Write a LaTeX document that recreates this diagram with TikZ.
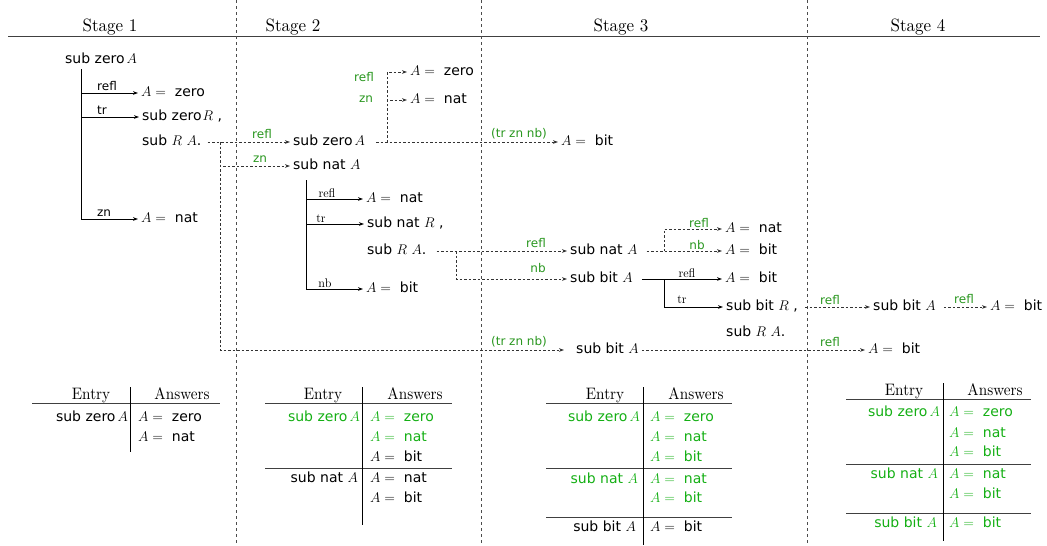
\RequirePackage{fix-cm}
\documentclass[tikz,border=0pt]{standalone}
\usepackage{graphicx}
\usepackage{fontspec}
\setsansfont{DejaVu Sans}
\usetikzlibrary{arrows.meta}
\definecolor{lblgreen}{RGB}{40,150,30}
\definecolor{tabgreen}{RGB}{20,175,20}
\newcommand{\Ais}{$A = {}$\hspace{5pt}}
% serif captions: 10pt design size, enlarged
\newcommand{\stagetxt}[1]{\scalebox{1.7}[1.78]{#1}}
\newcommand{\headtxt}[1]{\scalebox{1.52}[1.66]{#1}}
\newcommand{\rultxt}[1]{\scalebox{1.2}[1.25]{#1}}
\tikzset{
  txt/.style={font=\sffamily\fontsize{14}{16}\selectfont, inner xsep=3pt, inner ysep=0pt,
              text height=10pt, text depth=3pt, anchor=west},
  gtxt/.style={txt, text=tabgreen},
  stagehd/.style={font=\rmfamily\fontsize{10}{12}\selectfont, inner sep=0pt, anchor=base},
  tabhd/.style={font=\rmfamily\fontsize{10}{12}\selectfont, inner sep=0pt, anchor=base},
  slbl/.style={font=\sffamily\fontsize{12}{14}\selectfont, inner sep=0pt, anchor=base},
  glbl/.style={slbl, text=lblgreen},
  rlbl/.style={font=\rmfamily\fontsize{10}{12}\selectfont, inner sep=0pt, anchor=base},
  tree/.style={draw=black, line width=0.8pt},
  dcon/.style={draw=black!80, line width=0.8pt, dash pattern=on 2.5pt off 2pt},
  divider/.style={draw=black!70, line width=0.8pt, dash pattern=on 3pt off 3pt},
  hrule/.style={draw=black!75, line width=1pt},
  vrule/.style={draw=black, line width=0.9pt},
}
\begin{document}
\begin{tikzpicture}[x=1pt, y=-1pt, >={Stealth[length=5pt, width=3.6pt]}]
\useasboundingbox (0,0) rectangle (1047,546);

% ---- header and stage separators
\draw[hrule] (8,36) -- (1040,36);
\node[stagehd] (hd1) at (110,31) {\stagetxt{Stage 1}};
\node[stagehd] (hd2) at (293,31) {\stagetxt{Stage 2}};
\node[stagehd] (hd3) at (621,31) {\stagetxt{Stage 3}};
\node[stagehd] (hd4) at (918,31) {\stagetxt{Stage 4}};
\draw[divider] (236,0) -- (236,546);
\draw[divider] (481,0) -- (481,546);
\draw[divider] (807,0) -- (807,546);

% ---- stage 1
\node[txt] (s1root) at (62,60) {sub zero\hspace{2pt}$A$};
\node[txt] (s1refl) at (138,93) {\Ais zero};
\node[txt] (s1tr) at (139,117) {sub zero\hspace{1pt}$R$ ,};
\node[txt] (s1cont) at (139,142) {sub $R$ $A$.};
\node[txt] (s1zn) at (138,219) {\Ais nat};
\coordinate (s1spine) at (81,69);
\draw[tree,->] (s1spine) |- (s1zn.west);
\draw[tree,->] (s1spine |- s1refl.west) -- (s1refl.west);
\draw[tree,->] (s1spine |- s1tr.west) -- (s1tr.west);
\node[slbl] (s1l1) at (107,90) {refl};
\node[slbl] (s1l2) at (102,114) {tr};
\node[slbl] (s1l3) at (104,216) {zn};

% ---- stage 2
\node[txt] (s2root) at (290,142) {sub zero\hspace{2pt}$A$};
\node[txt] (s2nat) at (290,166) {sub nat $A$};
\node[txt] (s2z) at (407,72) {\Ais zero};
\node[txt] (s2n) at (407,100) {\Ais nat};
\node[txt] (s2bit) at (558,142) {\Ais bit};

\draw[dcon,->,shorten <=3pt] (s1cont.east) -- (s2root.west);
\coordinate (j1) at (220,142);
\draw[dcon,->] (j1) |- (s2nat.west);
\node[glbl] (g1) at (262,138) {refl};
\node[glbl] (g2) at (260,162) {zn};

\draw[dcon,->,shorten <=8pt] (s2root.east) -- (s2bit.west);
\coordinate (j2) at (387,142);
\draw[dcon,->] (j2) |- (s2z.west);
\draw[dcon,->] (j2) |- (s2n.west);
\node[glbl] (g3) at (364,81) {refl};
\node[glbl] (g4) at (366,102) {zn};
\node[glbl] (g5) at (519,137) {(tr zn nb)};

\coordinate (s2spine) at (306,180);
\node[txt] (s2a) at (363,199) {\Ais nat};
\node[txt] (s2b) at (364,224) {sub nat $R$ ,};
\node[txt] (s2c) at (364,251) {sub $R$ $A$.};
\node[txt] (s2d) at (363,289) {\Ais bit};
\draw[tree,->] (s2spine) |- (s2d.west);
\draw[tree,->] (s2spine |- s2a.west) -- (s2a.west);
\draw[tree,->] (s2spine |- s2b.west) -- (s2b.west);
\node[rlbl] (r1) at (327,197) {\rultxt{refl}};
\node[rlbl] (r2) at (321,222) {\rultxt{tr}};
\node[rlbl] (r3) at (325,287) {\rultxt{nb}};

% ---- stage 3
\node[txt] (s3nat) at (567,251) {sub nat $A$};
\node[txt] (s3bit) at (567,279) {sub bit $A$};
\node[txt] (s3nr) at (722,229) {\Ais nat};
\node[txt] (s3nb) at (722,251) {\Ais bit};
\node[txt] (s3a) at (722,279) {\Ais bit};
\node[txt] (s3b) at (723,307) {sub bit $R$ ,};
\node[txt] (s3c) at (723,333) {sub $R$ $A$.};

\draw[dcon,->,shorten <=7pt] (s2c.east) -- (s3nat.west);
\coordinate (j3) at (456,251);
\draw[dcon,->] (j3) |- (s3bit.west);
\node[glbl] (g6) at (536,247) {refl};
\node[glbl] (g7) at (538,272) {nb};

\draw[dcon,->,shorten <=6pt] (s3nat.east) -- (s3nb.west);
\coordinate (j4) at (664,251);
\draw[dcon,->] (j4) |- (s3nr.west);
\node[glbl] (g8) at (699,227) {refl};
\node[glbl] (g9) at (697,249) {nb};

\draw[tree,->,shorten <=6pt] (s3bit.east) -- (s3a.west);
\coordinate (j5) at (664,279);
\draw[tree,->] (j5) |- (s3b.west);
\node[rlbl] (r4) at (687,277) {\rultxt{refl}};
\node[rlbl] (r5) at (682,303) {\rultxt{tr}};

% ---- stage 4
\node[txt] (s4bit) at (870,307) {sub bit $A$};
\node[txt] (s4ans) at (987,307) {\Ais bit};
\draw[dcon,->,shorten <=4pt] (s3b.east) -- (s4bit.west);
\draw[dcon,->,shorten <=5pt] (s4bit.east) -- (s4ans.west);
\node[glbl] (g10) at (830,304) {refl};
\node[glbl] (g11) at (964,303) {refl};

% ---- long path to the bottom row
\node[txt] (s3bot) at (573,350) {sub bit $A$};
\node[txt] (s4bot) at (865,350) {\Ais bit};
\draw[dcon,->,shorten >=9pt] (j1) |- (s3bot.west);
\node[glbl] (g12) at (519,345) {(tr zn nb)};
\draw[dcon,->] (s3bot.east) -- (s4bot.west);
\node[glbl] (g13) at (830,346) {refl};

% ---- table, stage 1
\node[tabhd] (t1h1) at (91,399) {\headtxt{Entry}};
\node[tabhd] (t1h2) at (182,399) {\headtxt{Answers}};
\draw[hrule] (32,403) -- (220,403);
\draw[vrule] (130,387) -- (130,452);
\node[txt, anchor=east] (t1e1) at (131,418) {sub zero\hspace{2pt}$A$};
\node[txt] (t1a1) at (135,418) {\Ais zero};
\node[txt] (t1a2) at (135,438) {\Ais nat};

% ---- table, stage 2
\node[tabhd] (t2h1) at (323,399) {\headtxt{Entry}};
\node[tabhd] (t2h2) at (415,399) {\headtxt{Answers}};
\draw[hrule] (265,403) -- (452,403);
\draw[hrule] (265,468) -- (452,468);
\draw[vrule] (362,387) -- (362,525);
\node[gtxt, anchor=east] (t2e1) at (363,418) {sub zero\hspace{2pt}$A$};
\node[gtxt] (t2a1) at (367,418) {\Ais zero};
\node[gtxt] (t2a2) at (367,438) {\Ais nat};
\node[txt] (t2a3) at (367,458) {\Ais bit};
\node[txt, anchor=east] (t2e2) at (361,479) {sub nat $A$};
\node[txt] (t2a4) at (367,479) {\Ais nat};
\node[txt] (t2a5) at (367,499) {\Ais bit};

% ---- table, stage 3
\node[tabhd] (t3h1) at (605,399) {\headtxt{Entry}};
\node[tabhd] (t3h2) at (696,399) {\headtxt{Answers}};
\draw[hrule] (546,403) -- (732,403);
\draw[hrule] (546,468) -- (732,468);
\draw[hrule] (546,517) -- (732,517);
\draw[vrule] (643,387) -- (643,545);
\node[gtxt, anchor=east] (t3e1) at (643,418) {sub zero\hspace{2pt}$A$};
\node[gtxt] (t3a1) at (647,418) {\Ais zero};
\node[gtxt] (t3a2) at (647,438) {\Ais nat};
\node[gtxt] (t3a3) at (647,458) {\Ais bit};
\node[gtxt, anchor=east] (t3e2) at (641,480) {sub nat $A$};
\node[gtxt] (t3a4) at (647,480) {\Ais nat};
\node[gtxt] (t3a5) at (647,499) {\Ais bit};
\node[txt, anchor=east] (t3e3) at (639,528) {sub bit $A$};
\node[txt] (t3a6) at (647,528) {\Ais bit};

% ---- table, stage 4
\node[tabhd] (t4h1) at (904,395) {\headtxt{Entry}};
\node[tabhd] (t4h2) at (995,395) {\headtxt{Answers}};
\draw[hrule] (846,399) -- (1031,399);
\draw[hrule] (846,464) -- (1031,464);
\draw[hrule] (846,513) -- (1031,513);
\draw[vrule] (943,383) -- (943,541);
\node[gtxt, anchor=east] (t4e1) at (943,413) {sub zero\hspace{2pt}$A$};
\node[gtxt] (t4a1) at (946,413) {\Ais zero};
\node[gtxt] (t4a2) at (946,434) {\Ais nat};
\node[gtxt] (t4a3) at (946,453) {\Ais bit};
\node[gtxt, anchor=east] (t4e2) at (941,475) {sub nat $A$};
\node[gtxt] (t4a4) at (946,475) {\Ais nat};
\node[gtxt] (t4a5) at (946,495) {\Ais bit};
\node[gtxt, anchor=east] (t4e3) at (940,524) {sub bit $A$};
\node[gtxt] (t4a6) at (946,524) {\Ais bit};
\end{tikzpicture}
\end{document}
